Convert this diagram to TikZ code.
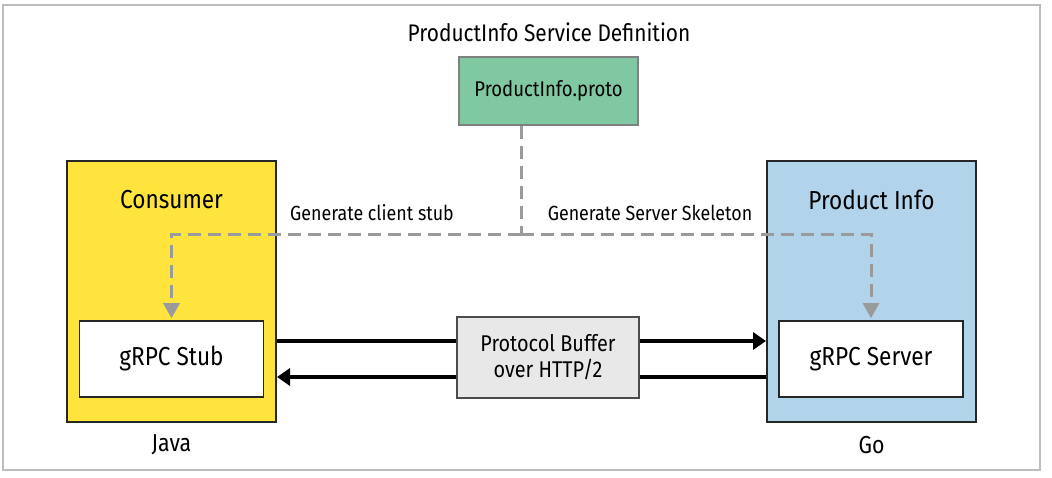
\documentclass[tikz,border=0pt]{standalone}
\usepackage{fontspec}
\setmainfont[FakeStretch=0.87]{Fira Sans}
\usetikzlibrary{arrows.meta,positioning}
\definecolor{consumeryellow}{HTML}{FEE43C}
\definecolor{serverblue}{HTML}{B2D4EA}
\definecolor{protogreen}{HTML}{80C8A2}
\definecolor{buffergray}{HTML}{E8E8E8}
\definecolor{dashgray}{HTML}{9A9A9A}
\definecolor{framegray}{HTML}{BDBDBD}
\begin{document}
\begin{tikzpicture}[x=1pt,y=-1pt,
    every node/.style={inner sep=0pt, font=\fontsize{20.5}{24}\selectfont},
    sidebox/.style={draw=black!85, line width=2pt, minimum width=209pt, minimum height=261pt},
    innerbox/.style={draw=black!85, fill=white, line width=1.6pt, minimum width=184pt, minimum height=76pt, font=\fontsize{26}{30}\selectfont},
    sidelabel/.style={font=\fontsize{26}{30}\selectfont},
    gen/.style={draw=dashgray, line width=3pt, dash pattern=on 13pt off 7pt},
    genarrow/.style={gen, -{Triangle[length=15pt,width=16pt,fill=dashgray]}, shorten >=2pt},
    wire/.style={line width=3.5pt, -{Triangle[length=13pt,width=17pt]}}]
    \useasboundingbox (0,0) rectangle (1052,477);
    \draw [framegray, line width=2pt] (3,5) rectangle (1040,470);

    % service definition
    \node [font=\fontsize{24}{28}\selectfont] (title) at (549,32) {ProductInfo Service Definition};
    \node [draw=black!50, fill=protogreen, line width=1.6pt, minimum width=179pt, minimum height=68pt, font=\fontsize{21.3}{25}\selectfont] (proto) at (548.5,91) {ProductInfo.proto};

    % consumer side
    \node [sidebox, fill=consumeryellow] (consumer) at (171.5,291) {};
    \node [sidelabel] (consumerlbl) at (171.5,200) {Consumer};
    \node [innerbox] (stub) at (171.5,359) {gRPC Stub};
    \node [font=\fontsize{24.5}{28}\selectfont] (java) at (171.5,445) {Java};

    % server side
    \node [sidebox, fill=serverblue] (product) at (871.5,291) {};
    \node [sidelabel] (productlbl) at (871.5,200) {Product Info};
    \node [innerbox] (server) at (871,359) {gRPC Server};
    \node [font=\fontsize{24.5}{28}\selectfont] (go) at (871.5,445) {Go};

    % code generation
    \coordinate (split) at (521,234);
    \draw [gen] (proto.south -| split) -- (split);
    \draw [genarrow] (split) -| (stub.north);
    \draw [genarrow] (split) -| (server.north);
    \node (clientlbl) at (372,213) {Generate client stub};
    \node (serverlbl) at (650,213) {Generate Server Skeleton};

    % transport
    \draw [wire] (consumer.east |- 0,341) -- (product.west |- 0,341);
    \draw [wire] (product.west |- 0,377) -- (consumer.east |- 0,377);
    \node [draw=black!70, fill=buffergray, line width=1.6pt, minimum width=182pt, minimum height=81pt, align=center, font=\fontsize{22.8}{26}\selectfont] (pbuf) at (548,357.5) {Protocol Buffer\\over HTTP/2};
\end{tikzpicture}
\end{document}
